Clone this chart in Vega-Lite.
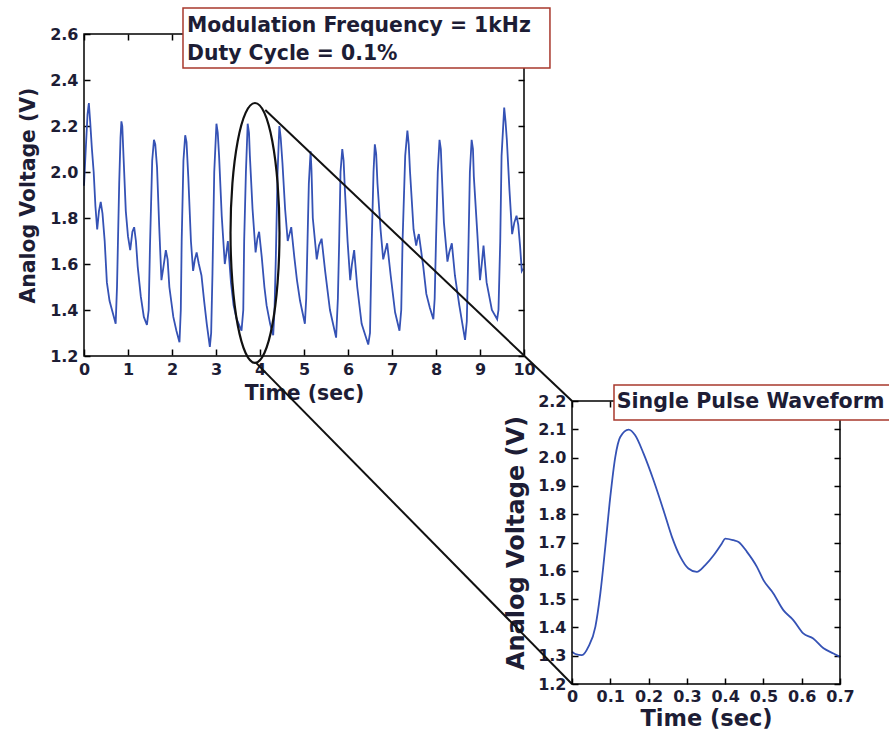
{
  "$schema": "https://vega.github.io/schema/vega-lite/v6.json",
  "width": 889,
  "height": 732,
  "autosize": "none",
  "padding": 0,
  "background": "white",
  "config": {
    "view": {"stroke": null},
    "axis": {
      "domain": false,
      "grid": false,
      "tickColor": "#000",
      "tickWidth": 1.5,
      "tickSize": -6,
      "labelPadding": 12,
      "labelFont": "DejaVu Sans",
      "labelFontWeight": "bold",
      "labelFontSize": 16,
      "labelColor": "#1d1d35",
      "titleFont": "DejaVu Sans",
      "titleFontWeight": "bold",
      "titleFontSize": 20.4,
      "titleColor": "#1d1d35",
      "labelFlush": false,
      "labelOverlap": false
    }
  },
  "datasets": {
    "wave": [
      {"t":0.00,"v":1.94},{"t":0.04,"v":2.10},{"t":0.08,"v":2.25},{"t":0.11,"v":2.30},{"t":0.14,"v":2.22},{"t":0.18,"v":2.10},{"t":0.22,"v":2.00},{"t":0.26,"v":1.85},{"t":0.30,"v":1.75},{"t":0.34,"v":1.83},{"t":0.38,"v":1.87},{"t":0.42,"v":1.82},{"t":0.47,"v":1.70},{"t":0.52,"v":1.52},{"t":0.58,"v":1.44},{"t":0.65,"v":1.39},{"t":0.72,"v":1.34},
      {"t":0.75,"v":1.50},{"t":0.77,"v":1.68},{"t":0.80,"v":1.95},{"t":0.83,"v":2.15},{"t":0.85,"v":2.22},{"t":0.87,"v":2.20},{"t":0.90,"v":2.06},{"t":0.95,"v":1.83},{"t":1.00,"v":1.72},{"t":1.05,"v":1.66},{"t":1.10,"v":1.74},{"t":1.14,"v":1.76},{"t":1.18,"v":1.70},{"t":1.22,"v":1.59},{"t":1.29,"v":1.46},{"t":1.36,"v":1.37},{"t":1.43,"v":1.335},
      {"t":1.47,"v":1.40},{"t":1.50,"v":1.68},{"t":1.55,"v":2.05},{"t":1.59,"v":2.14},{"t":1.62,"v":2.12},{"t":1.66,"v":2.02},{"t":1.71,"v":1.76},{"t":1.76,"v":1.53},{"t":1.80,"v":1.58},{"t":1.86,"v":1.66},{"t":1.90,"v":1.62},{"t":1.94,"v":1.50},{"t":2.03,"v":1.37},{"t":2.10,"v":1.31},{"t":2.17,"v":1.26},
      {"t":2.20,"v":1.40},{"t":2.22,"v":1.70},{"t":2.26,"v":2.05},{"t":2.30,"v":2.16},{"t":2.33,"v":2.13},{"t":2.37,"v":1.98},{"t":2.43,"v":1.70},{"t":2.48,"v":1.57},{"t":2.52,"v":1.62},{"t":2.56,"v":1.65},{"t":2.61,"v":1.60},{"t":2.67,"v":1.55},{"t":2.73,"v":1.44},{"t":2.79,"v":1.34},{"t":2.86,"v":1.24},
      {"t":2.89,"v":1.30},{"t":2.92,"v":1.56},{"t":2.96,"v":2.00},{"t":3.01,"v":2.21},{"t":3.04,"v":2.17},{"t":3.07,"v":2.07},{"t":3.13,"v":1.81},{"t":3.20,"v":1.60},{"t":3.23,"v":1.64},{"t":3.27,"v":1.70},{"t":3.34,"v":1.52},{"t":3.40,"v":1.42},{"t":3.47,"v":1.36},{"t":3.58,"v":1.31},
      {"t":3.62,"v":1.40},{"t":3.64,"v":1.70},{"t":3.68,"v":2.00},{"t":3.72,"v":2.21},{"t":3.75,"v":2.17},{"t":3.77,"v":2.07},{"t":3.83,"v":1.84},{"t":3.90,"v":1.65},{"t":3.94,"v":1.71},{"t":3.98,"v":1.74},{"t":4.04,"v":1.63},{"t":4.10,"v":1.50},{"t":4.15,"v":1.42},{"t":4.23,"v":1.34},{"t":4.30,"v":1.29},
      {"t":4.33,"v":1.40},{"t":4.36,"v":1.63},{"t":4.40,"v":2.00},{"t":4.44,"v":2.20},{"t":4.47,"v":2.15},{"t":4.51,"v":2.04},{"t":4.57,"v":1.84},{"t":4.63,"v":1.70},{"t":4.67,"v":1.73},{"t":4.71,"v":1.76},{"t":4.78,"v":1.63},{"t":4.84,"v":1.53},{"t":4.91,"v":1.44},{"t":5.02,"v":1.34},
      {"t":5.05,"v":1.45},{"t":5.08,"v":1.70},{"t":5.11,"v":1.95},{"t":5.15,"v":2.09},{"t":5.17,"v":2.01},{"t":5.20,"v":1.80},{"t":5.29,"v":1.62},{"t":5.34,"v":1.68},{"t":5.40,"v":1.71},{"t":5.48,"v":1.57},{"t":5.59,"v":1.40},{"t":5.73,"v":1.28},
      {"t":5.77,"v":1.45},{"t":5.80,"v":1.70},{"t":5.83,"v":2.00},{"t":5.87,"v":2.10},{"t":5.90,"v":2.05},{"t":5.93,"v":1.92},{"t":5.99,"v":1.70},{"t":6.05,"v":1.53},{"t":6.09,"v":1.60},{"t":6.14,"v":1.66},{"t":6.21,"v":1.50},{"t":6.31,"v":1.34},{"t":6.46,"v":1.25},
      {"t":6.50,"v":1.30},{"t":6.54,"v":1.70},{"t":6.58,"v":2.00},{"t":6.61,"v":2.12},{"t":6.64,"v":2.08},{"t":6.67,"v":1.95},{"t":6.74,"v":1.75},{"t":6.80,"v":1.62},{"t":6.85,"v":1.66},{"t":6.89,"v":1.69},{"t":6.97,"v":1.55},{"t":7.07,"v":1.39},{"t":7.17,"v":1.31},
      {"t":7.21,"v":1.40},{"t":7.24,"v":1.70},{"t":7.30,"v":2.07},{"t":7.35,"v":2.18},{"t":7.38,"v":2.12},{"t":7.41,"v":2.00},{"t":7.49,"v":1.75},{"t":7.55,"v":1.68},{"t":7.58,"v":1.71},{"t":7.61,"v":1.73},{"t":7.66,"v":1.66},{"t":7.71,"v":1.59},{"t":7.78,"v":1.47},{"t":7.86,"v":1.41},{"t":7.94,"v":1.36},
      {"t":7.97,"v":1.45},{"t":8.00,"v":1.70},{"t":8.04,"v":2.00},{"t":8.08,"v":2.14},{"t":8.11,"v":2.10},{"t":8.13,"v":2.00},{"t":8.18,"v":1.78},{"t":8.26,"v":1.61},{"t":8.30,"v":1.65},{"t":8.36,"v":1.69},{"t":8.43,"v":1.55},{"t":8.53,"v":1.42},{"t":8.66,"v":1.27},
      {"t":8.70,"v":1.35},{"t":8.74,"v":1.70},{"t":8.77,"v":2.00},{"t":8.81,"v":2.14},{"t":8.84,"v":2.10},{"t":8.86,"v":1.98},{"t":8.94,"v":1.73},{"t":9.00,"v":1.53},{"t":9.04,"v":1.60},{"t":9.08,"v":1.68},{"t":9.15,"v":1.52},{"t":9.27,"v":1.40},{"t":9.39,"v":1.36},
      {"t":9.42,"v":1.40},{"t":9.46,"v":1.70},{"t":9.49,"v":2.07},{"t":9.55,"v":2.28},{"t":9.58,"v":2.22},{"t":9.61,"v":2.14},{"t":9.67,"v":1.92},{"t":9.73,"v":1.73},{"t":9.78,"v":1.78},{"t":9.83,"v":1.81},{"t":9.87,"v":1.77},{"t":9.91,"v":1.68},{"t":9.95,"v":1.57},{"t":9.98,"v":1.58}
    ],
    "pulse": [
      {"t":0.000,"v":1.314},{"t":0.009,"v":1.306},{"t":0.026,"v":1.302},{"t":0.043,"v":1.332},{"t":0.061,"v":1.402},{"t":0.074,"v":1.520},{"t":0.087,"v":1.685},{"t":0.100,"v":1.861},{"t":0.113,"v":2.002},{"t":0.126,"v":2.073},{"t":0.148,"v":2.099},{"t":0.165,"v":2.079},{"t":0.187,"v":2.014},{"t":0.213,"v":1.920},{"t":0.239,"v":1.814},{"t":0.261,"v":1.720},{"t":0.283,"v":1.649},{"t":0.304,"v":1.608},{"t":0.326,"v":1.596},{"t":0.348,"v":1.620},{"t":0.370,"v":1.655},{"t":0.391,"v":1.696},{"t":0.400,"v":1.714},{"t":0.422,"v":1.708},{"t":0.435,"v":1.702},{"t":0.457,"v":1.667},{"t":0.483,"v":1.614},{"t":0.500,"v":1.567},{"t":0.526,"v":1.520},{"t":0.552,"v":1.461},{"t":0.578,"v":1.426},{"t":0.604,"v":1.379},{"t":0.630,"v":1.361},{"t":0.657,"v":1.326},{"t":0.683,"v":1.308},{"t":0.700,"v":1.296}
    ],
    "ellipse": [
      {"i":0,"t":3.886,"v":2.300},{"i":1,"t":4.100,"v":2.257},{"i":2,"t":4.280,"v":2.134},{"i":3,"t":4.400,"v":1.951},{"i":4,"t":4.443,"v":1.735},{"i":5,"t":4.400,"v":1.519},{"i":6,"t":4.280,"v":1.335},{"i":7,"t":4.100,"v":1.213},{"i":8,"t":3.886,"v":1.170},{"i":9,"t":3.673,"v":1.213},{"i":10,"t":3.493,"v":1.335},{"i":11,"t":3.373,"v":1.519},{"i":12,"t":3.330,"v":1.735},{"i":13,"t":3.373,"v":1.951},{"i":14,"t":3.493,"v":2.134},{"i":15,"t":3.673,"v":2.257}
    ],
    "connectors": [
      {"t1":4.12,"v1":2.27,"t2":11.091,"v2":1.004},
      {"t1":3.91,"v1":1.17,"t2":11.091,"v2":-0.226}
    ]
  },
  "resolve": {"scale": {"x": "independent", "y": "independent"}, "axis": {"x": "independent", "y": "independent"}},
  "layer": [
    {
      "resolve": {"axis": {"x": "independent", "y": "independent"}},
      "layer": [
        {
          "data": {"name": "wave"},
          "mark": {"type": "line", "color": "#3552b5", "strokeWidth": 1.8},
          "encoding": {
            "x": {"field": "t", "type": "quantitative",
              "scale": {"domain": [0, 10], "range": [84, 524], "nice": false, "zero": false},
              "axis": {"orient": "bottom", "offset": -377, "values": [0,1,2,3,4,5,6,7,8,9,10], "title": "Time (sec)", "titlePadding": 6}},
            "y": {"field": "v", "type": "quantitative",
              "scale": {"domain": [1.2, 2.6], "range": [356, 34], "nice": false, "zero": false},
              "axis": {"orient": "left", "offset": -84, "values": [1.2,1.4,1.6,1.8,2.0,2.2,2.4,2.6], "format": ".1f", "title": "Analog Voltage (V)", "titlePadding": 11}}
          }
        },
        {
          "data": {"values": [{}]},
          "mark": {"type": "rect", "filled": false, "color": "#000", "strokeWidth": 1.5},
          "encoding": {
            "x": {"datum": 0, "type": "quantitative", "axis": {"orient": "top", "offset": -34, "labels": false, "title": null, "values": [0,1,2,3,4,5,6,7,8,9,10]}},
            "x2": {"datum": 10},
            "y": {"datum": 1.2, "type": "quantitative", "axis": {"orient": "right", "offset": -365, "labels": false, "title": null, "values": [1.2,1.4,1.6,1.8,2.0,2.2,2.4,2.6]}},
            "y2": {"datum": 2.6}
          }
        },
        {
          "data": {"name": "ellipse"},
          "mark": {"type": "line", "interpolate": "cardinal-closed", "color": "#111", "strokeWidth": 2.2},
          "encoding": {
            "x": {"field": "t", "type": "quantitative", "axis": null},
            "y": {"field": "v", "type": "quantitative", "axis": null},
            "order": {"field": "i"}
          }
        },
        {
          "data": {"name": "connectors"},
          "mark": {"type": "rule", "color": "#111", "strokeWidth": 2},
          "encoding": {
            "x": {"field": "t1", "type": "quantitative", "axis": null},
            "y": {"field": "v1", "type": "quantitative", "axis": null},
            "x2": {"field": "t2"},
            "y2": {"field": "v2"}
          }
        },
        {
          "data": {"values": [{}]},
          "mark": {"type": "rect", "fill": "white", "stroke": "#a8382c", "strokeWidth": 1.5},
          "encoding": {
            "x": {"datum": 2.25, "type": "quantitative", "axis": null},
            "x2": {"datum": 10.59},
            "y": {"datum": 2.713, "type": "quantitative", "axis": null},
            "y2": {"datum": 2.452}
          }
        },
        {
          "data": {"values": [{}]},
          "mark": {"type": "text", "text": "Modulation Frequency = 1kHz", "align": "left", "baseline": "alphabetic", "font": "DejaVu Sans", "fontWeight": "bold", "fontSize": 20.4, "color": "#1d1d35"},
          "encoding": {
            "x": {"datum": 2.34, "type": "quantitative", "axis": null},
            "y": {"datum": 2.607, "type": "quantitative", "axis": null}
          }
        },
        {
          "data": {"values": [{}]},
          "mark": {"type": "text", "text": "Duty Cycle = 0.1%", "align": "left", "baseline": "alphabetic", "font": "DejaVu Sans", "fontWeight": "bold", "fontSize": 20.4, "color": "#1d1d35"},
          "encoding": {
            "x": {"datum": 2.34, "type": "quantitative", "axis": null},
            "y": {"datum": 2.487, "type": "quantitative", "axis": null}
          }
        }
      ]
    },
    {
      "resolve": {"axis": {"x": "independent", "y": "independent"}},
      "layer": [
        {
          "data": {"name": "pulse"},
          "mark": {"type": "line", "color": "#3552b5", "strokeWidth": 1.8, "interpolate": "monotone"},
          "encoding": {
            "x": {"field": "t", "type": "quantitative",
              "scale": {"domain": [0, 0.7], "range": [572, 840], "nice": false, "zero": false},
              "axis": {"orient": "bottom", "offset": -48, "values": [0,0.1,0.2,0.3,0.4,0.5,0.6,0.7], "format": ".1~f", "title": "Time (sec)", "titleFontSize": 22.5, "titlePadding": 3, "labelPadding": 10}},
            "y": {"field": "v", "type": "quantitative",
              "scale": {"domain": [1.2, 2.2], "range": [684, 401], "nice": false, "zero": false},
              "axis": {"orient": "left", "offset": -572, "values": [1.2,1.3,1.4,1.5,1.6,1.7,1.8,1.9,2.0,2.1,2.2], "format": ".1f", "title": "Analog Voltage (V)", "titleFontSize": 24, "titlePadding": 9}}
          }
        },
        {
          "data": {"values": [{}]},
          "mark": {"type": "rect", "filled": false, "color": "#000", "strokeWidth": 1.5},
          "encoding": {
            "x": {"datum": 0, "type": "quantitative", "axis": {"orient": "top", "offset": -401, "labels": false, "title": null, "values": [0,0.1,0.2,0.3,0.4,0.5,0.6,0.7]}},
            "x2": {"datum": 0.7},
            "y": {"datum": 1.2, "type": "quantitative", "axis": {"orient": "right", "offset": -49, "labels": false, "title": null, "values": [1.2,1.3,1.4,1.5,1.6,1.7,1.8,1.9,2.0,2.1,2.2]}},
            "y2": {"datum": 2.2}
          }
        },
        {
          "data": {"values": [{}]},
          "mark": {"type": "rect", "fill": "white", "stroke": "#a8382c", "strokeWidth": 1.5},
          "encoding": {
            "x": {"datum": 0.1097, "type": "quantitative", "axis": null},
            "x2": {"datum": 0.8437},
            "y": {"datum": 2.2565, "type": "quantitative", "axis": null},
            "y2": {"datum": 2.1329}
          }
        },
        {
          "data": {"values": [{}]},
          "mark": {"type": "text", "text": "Single Pulse Waveform", "align": "left", "baseline": "alphabetic", "font": "DejaVu Sans", "fontWeight": "bold", "fontSize": 20.6, "color": "#1d1d35"},
          "encoding": {
            "x": {"datum": 0.1167, "type": "quantitative", "axis": null},
            "y": {"datum": 2.174, "type": "quantitative", "axis": null}
          }
        }
      ]
    }
  ]
}
